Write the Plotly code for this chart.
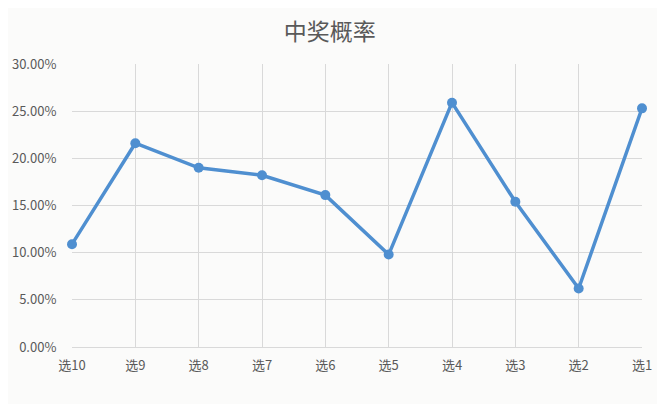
import plotly.graph_objs as go

# 中奖概率 per selection
categories = ['选10', '选9', '选8', '选7', '选6', '选5', '选4', '选3', '选2', '选1']
rates = [0.109, 0.216, 0.190, 0.182, 0.161, 0.098, 0.259, 0.154, 0.062, 0.253]
y_ticks = [0, 0.05, 0.10, 0.15, 0.20, 0.25, 0.30]

bg = '#fbfbfa'

fig = go.Figure(data=[go.Scatter(x=categories, y=rates,
                                 mode='lines+markers', cliponaxis=False,
                                 line=dict(color='#4f8fd0', width=3.5),
                                 marker=dict(color='#4f8fd0', size=10))])

# page body adds an 8px offset, so margins are shifted to compensate
fig.update_layout(title=dict(text='中奖概率', x=0.484, xanchor='center',
                             y=0.94, yanchor='middle', yref='container',
                             font=dict(size=23, color='#595959')),
                  width=665, height=404,
                  margin=dict(l=64, r=31, t=56, b=65),
                  paper_bgcolor=bg, plot_bgcolor=bg,
                  font=dict(family='Noto Sans CJK SC, Liberation Sans', color='#595959', size=13),
                  showlegend=False)

fig.update_xaxes(type='category', range=[0, len(categories) - 1],
                 showgrid=True, gridcolor='#d9d9d9', gridwidth=1,
                 showline=True, linecolor='#d9d9d9', automargin=False,
                 ticks='outside', ticklen=6, tickcolor=bg,
                 tickfont=dict(size=13, color='#595959'))
fig.update_yaxes(range=[0, 0.30], tickvals=y_ticks, tickformat='.2%',
                 showgrid=True, gridcolor='#d9d9d9', gridwidth=1, automargin=False,
                 zeroline=False, ticks='outside', ticklen=12, tickcolor=bg,
                 tickfont=dict(size=13, color='#595959'))

fig.write_html("out.html")
